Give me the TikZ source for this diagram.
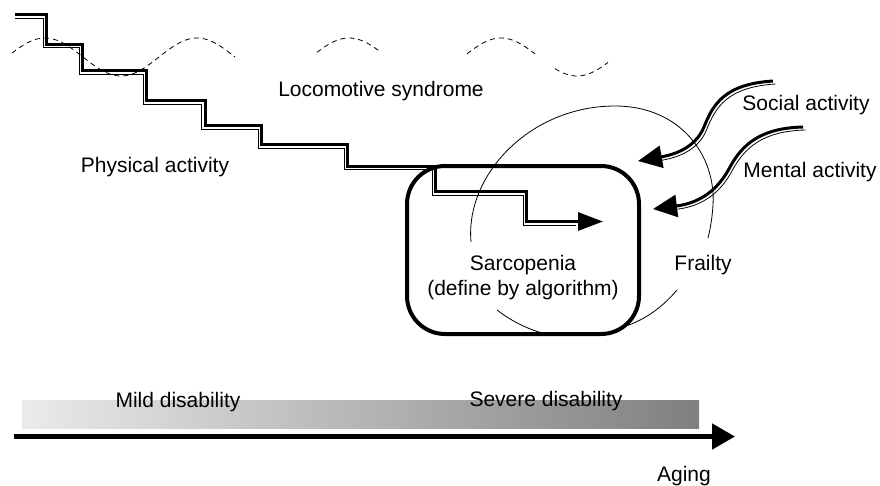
\documentclass[tikz,border=0pt]{standalone}
\usepackage{fontspec}
\setmainfont{Liberation Sans}
\usetikzlibrary{arrows.meta, positioning}

\begin{document}
\begin{tikzpicture}[x=1pt, y=-1pt, line join=miter]
        % Define styles
        \tikzstyle{lbl} = [font=\fontsize{21}{25}\selectfont, inner sep=0pt, anchor=base]
        \tikzstyle{heavy} = [line width=3pt]
        \tikzstyle{fine} = [line width=0.8pt]
        \tikzstyle{wave} = [dash pattern=on 5pt off 4pt, line width=0.8pt]
        \tikzstyle{bigtip} = [-{Triangle[length=25pt, width=18pt]}]
        \tikzstyle{sidetip} = [-{Triangle[length=24pt, width=22pt]}]

        \useasboundingbox (0,0) rectangle (880,485);

        % Dashed waves
        \draw [wave] plot[domain=12:235, samples=80] (\x, {57-19*cos(2.3684*(\x-45))});
        \draw [wave] plot[domain=317:380, samples=30] (\x, {57-19*cos(2.3684*(\x-45))});
        \draw [wave] plot[domain=467:535, samples=30] (\x, {57-19*cos(2.3684*(\x-45))});
        \draw [wave] plot[domain=555:608, samples=30] (\x, {57-19*cos(2.3684*(\x-45))});

        % Place nodes
        \node [draw, line width=4pt, rounded corners=38pt, minimum width=232pt, minimum height=168pt] (sarco) at (523,250) {};
        \node [lbl] (loco) at (381,96) {Locomotive syndrome};
        \node [lbl] (physical) at (155,172) {Physical activity};
        \node [lbl] (social) at (806,110) {Social activity};
        \node [lbl] (mental) at (810,177) {Mental activity};
        \node [lbl] (frailty) at (703,270) {Frailty};
        \node [lbl] (sarcotext) at (523,270) {Sarcopenia};
        \node [lbl] (algo) at (523,295) {(define by algorithm)};

        % Frailty outline
        \draw [fine] (471,242) .. controls (465,175) and (530,106) .. (615,106) .. controls (680,106) and (716,155) .. (713,205) .. controls (712,220) and (710,230) .. (708,238);
        \draw [fine] (677,290) .. controls (660,310) and (642,321) .. (623,327);
        \draw [fine] (497,310) .. controls (510,320) and (525,328) .. (542,333);

        % Stairs
        \draw [heavy, bigtip] (15,14.5) -| (46.5,44) -| (82.5,70.5) -| (146.5,100.5) -| (205,125.5) -| (261.5,144.5) -| (347.5,166) -| (435.5,191.5) -| (526.5,221.5) -- (603,221.5);
        \draw [fine, shift={(-3.5,3.5)}, shorten >=24pt] (18.5,14.5) -| (46.5,44) -| (82.5,70.5) -| (146.5,100.5) -| (205,125.5) -| (261.5,144.5) -| (347.5,166) -| (435.5,191.5) -| (526.5,221.5) -- (603,221.5);

        % Side arrows
        \coordinate (socialstart) at (773,81);
        \coordinate (socialmid) at (704,127);
        \coordinate (socialtip) at (638,161);
        \coordinate (mentalstart) at (803,127);
        \coordinate (mentalmid) at (730,167);
        \coordinate (mentaltip) at (653,209);
        \draw [heavy, sidetip] (socialstart) .. controls +(-48,3) and +(9,-23) .. (socialmid) .. controls +(-9,22) and +(34,-6) .. (socialtip);
        \draw [fine, shorten >=22pt] ([shift={(2.5,3)}]socialstart) .. controls +(-48,3) and +(9,-23) .. ([shift={(2.5,3)}]socialmid) .. controls +(-9,22) and +(34,-6) .. ([shift={(2.5,3)}]socialtip);
        \draw [heavy, sidetip] (mentalstart) .. controls +(-43,1) and +(12,-22) .. (mentalmid) .. controls +(-12,23) and +(47,-6) .. (mentaltip);
        \draw [fine, shorten >=22pt] ([shift={(2.5,3)}]mentalstart) .. controls +(-43,1) and +(12,-22) .. ([shift={(2.5,3)}]mentalmid) .. controls +(-12,23) and +(47,-6) .. ([shift={(2.5,3)}]mentaltip);

        % Disability bar and aging axis
        \shade [left color=black!8, right color=black!50] (22,400) rectangle (699,428);
        \node [lbl] (mild) at (178,407) {Mild disability};
        \node [lbl] (severe) at (546,406) {Severe disability};
        \coordinate (agestart) at (14,436.5);
        \coordinate (ageend) at (735,436.5);
        \draw [line width=5pt, -{Triangle[length=23pt, width=25pt]}] (agestart) -- (ageend);
        \node [lbl] (aging) at (684,481) {Aging};
    \end{tikzpicture}
\end{document}
